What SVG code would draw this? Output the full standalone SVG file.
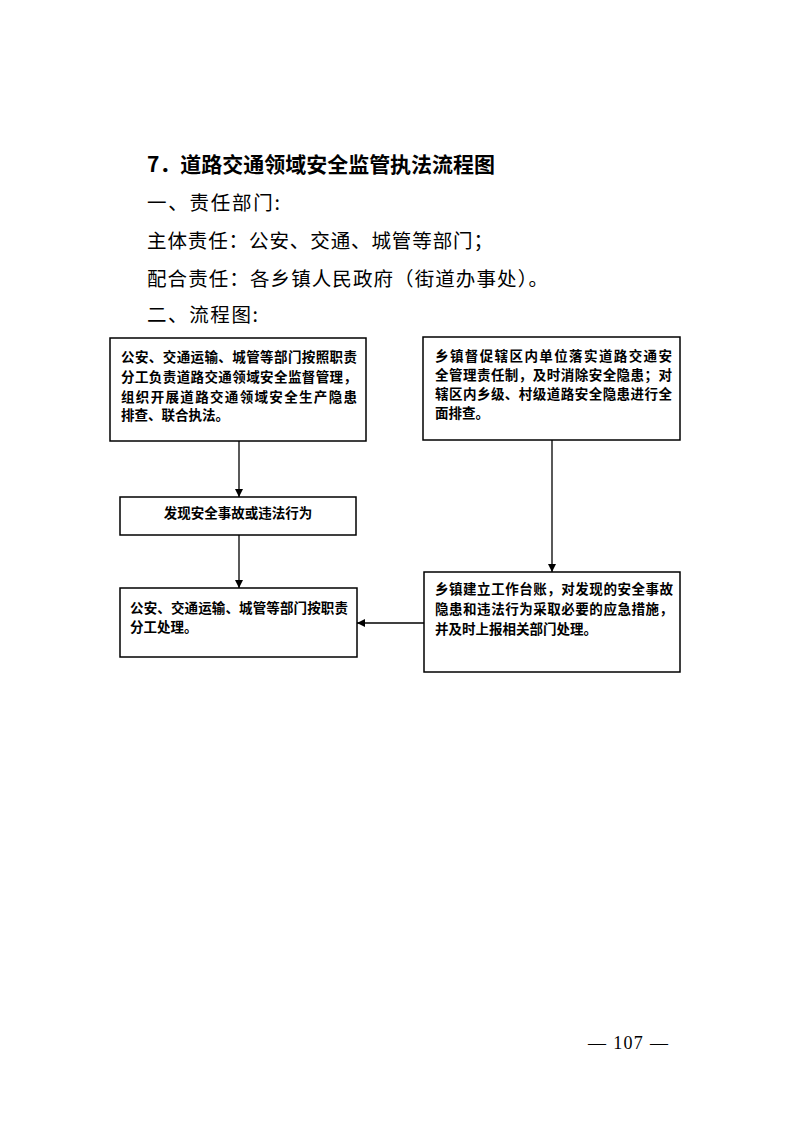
<svg xmlns="http://www.w3.org/2000/svg" width="793" height="1122" viewBox="0 0 793 1122">
<defs>
<style>
.h{font-family:"Noto Sans CJK SC","Liberation Sans",sans-serif;font-size:21px;font-weight:bold;fill:#000}
.p{font-family:"Noto Sans CJK SC","Liberation Sans",sans-serif;font-size:19.5px;fill:#000}
.t{font-family:"Noto Sans CJK SC","Liberation Sans",sans-serif;font-size:13.5px;font-weight:bold;fill:#000}
.box{fill:#fff;stroke:#000;stroke-width:1.5}
.ln{stroke:#000;stroke-width:1.3;fill:none}
.pg{font-family:"Liberation Serif",serif;font-size:18px;fill:#000}
</style>
<marker id="ah" viewBox="0 0 10 10" refX="10" refY="5" markerWidth="8" markerHeight="8" markerUnits="userSpaceOnUse" orient="auto">
<path d="M0,0 L10,5 L0,10 z" fill="#000"/>
</marker>
</defs>
<rect width="793" height="1122" fill="#fff"/>
<text class="h" x="147" y="172" textLength="348" lengthAdjust="spacingAndGlyphs">7．道路交通领域安全监管执法流程图</text>
<text class="p" x="147" y="210" textLength="133" lengthAdjust="spacing">一、责任部门:</text>
<text class="p" x="147" y="248" textLength="346" lengthAdjust="spacing">主体责任：公安、交通、城管等部门；</text>
<text class="p" x="147" y="286" textLength="401" lengthAdjust="spacing">配合责任：各乡镇人民政府（街道办事处）。</text>
<text class="p" x="147" y="322" textLength="111" lengthAdjust="spacing">二、流程图:</text>

<g id="connectors">
<line class="ln" x1="239" y1="441" x2="239" y2="497" marker-end="url(#ah)"/>
<line class="ln" x1="239" y1="535" x2="239" y2="588" marker-end="url(#ah)"/>
<line class="ln" x1="552" y1="440" x2="552" y2="572" marker-end="url(#ah)"/>
<line class="ln" x1="424" y1="623" x2="357" y2="623" marker-end="url(#ah)"/>
</g>

<g id="node1">
<rect class="box" x="110" y="338" width="256" height="103"/>
<text class="t" x="121" y="362" textLength="236" lengthAdjust="spacing">公安、交通运输、城管等部门按照职责</text>
<text class="t" x="121" y="382" textLength="236" lengthAdjust="spacing">分工负责道路交通领域安全监督管理，</text>
<text class="t" x="121" y="402" textLength="236" lengthAdjust="spacing">组织开展道路交通领域安全生产隐患</text>
<text class="t" x="121" y="420">排查、联合执法。</text>
</g>

<g id="node2">
<rect class="box" x="423" y="337" width="257" height="103"/>
<text class="t" x="435" y="361" textLength="237" lengthAdjust="spacing">乡镇督促辖区内单位落实道路交通安</text>
<text class="t" x="435" y="380" textLength="237" lengthAdjust="spacing">全管理责任制，及时消除安全隐患；对</text>
<text class="t" x="435" y="399" textLength="237" lengthAdjust="spacing">辖区内乡级、村级道路安全隐患进行全</text>
<text class="t" x="435" y="418">面排查。</text>
</g>

<g id="node3">
<rect class="box" x="120" y="497" width="236" height="38"/>
<text class="t" x="238" y="518" text-anchor="middle">发现安全事故或违法行为</text>
</g>

<g id="node4">
<rect class="box" x="120" y="588" width="237" height="69"/>
<text class="t" x="130" y="613" textLength="218" lengthAdjust="spacing">公安、交通运输、城管等部门按职责</text>
<text class="t" x="130" y="632">分工处理。</text>
</g>

<g id="node5">
<rect class="box" x="424" y="572" width="256" height="100"/>
<text class="t" x="435" y="594" textLength="238" lengthAdjust="spacing">乡镇建立工作台账，对发现的安全事故</text>
<text class="t" x="435" y="614" textLength="238" lengthAdjust="spacing">隐患和违法行为采取必要的应急措施，</text>
<text class="t" x="435" y="634">并及时上报相关部门处理。</text>
</g>

<text class="pg" x="588" y="1049" textLength="80" lengthAdjust="spacing">— 107 —</text>
</svg>
